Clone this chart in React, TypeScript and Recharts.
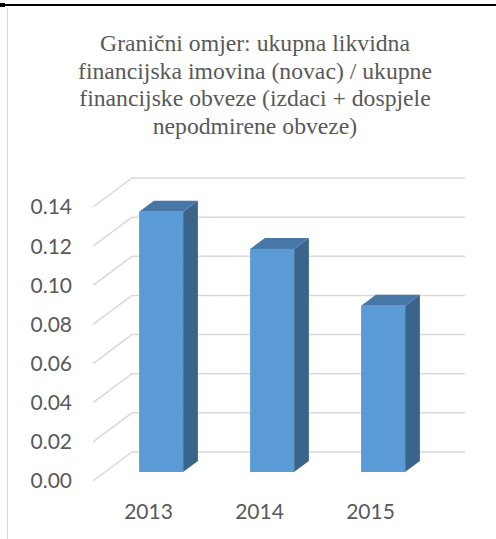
import React from 'react';
import { BarChart, Bar, XAxis, YAxis, CartesianGrid } from 'recharts';

const categories = ['2013', '2014', '2015'];
const ratioValues = [0.133, 0.114, 0.085];
const yTicks = [0, 0.02, 0.04, 0.06, 0.08, 0.1, 0.12, 0.14];
const titleLines = [
  'Granični omjer: ukupna likvidna',
  'financijska imovina (novac) / ukupne',
  'financijske obveze (izdaci + dospjele',
  'nepodmirene obveze)',
];

const data = categories.map((c, i) => ({ year: c, value: ratioValues[i] }));

const DEPTH_X = 39;
const DEPTH_Y = 29;
const BAR_OFF = 9 / 29;
const BAR_DEPTH = 11 / 29;

const GridLine = (props: any) => {
  const { x1, x2, y1 } = props;
  const pts = `${x1},${y1} ${x1 + DEPTH_X},${y1 - DEPTH_Y} ${x2 + DEPTH_X},${y1 - DEPTH_Y}`;
  return <polyline points={pts} fill="none" stroke="#D9D9D9" strokeWidth={1.5} />;
};

const Bar3D = (props: any) => {
  const { x, y, width, height } = props;
  if (width == null || height == null) return null;
  const ox = DEPTH_X * BAR_OFF;
  const oy = DEPTH_Y * BAR_OFF;
  const dx = DEPTH_X * BAR_DEPTH;
  const dy = DEPTH_Y * BAR_DEPTH;
  const fx = x + ox;
  const top = y - oy;
  const bottom = y + height - oy;
  const w = width;
  return (
    <g>
      <polygon
        points={`${fx + w},${top} ${fx + w + dx},${top - dy} ${fx + w + dx},${bottom - dy} ${fx + w},${bottom}`}
        fill="#3A6489"
      />
      <polygon
        points={`${fx},${top} ${fx + dx},${top - dy} ${fx + w + dx},${top - dy} ${fx + w},${top}`}
        fill="#4677A7"
      />
      <rect x={fx} y={top} width={w} height={bottom - top} fill="#5B9BD5" />
    </g>
  );
};

export default function App() {
  return (
    <div style={{ position: 'absolute', left: 0, top: 0, width: 496, height: 539, background: '#fff' }}>
      <div style={{ position: 'absolute', left: 0, top: 4, width: 496, height: 2, background: '#000' }} />
      <div style={{ position: 'absolute', left: 0, top: 3, width: 5, height: 4, background: '#000' }} />
      <div style={{ position: 'absolute', left: 7, top: 8, width: 1, height: 531, background: '#D9D9D9' }} />
      <div
        style={{
          position: 'absolute',
          left: 10,
          top: 30,
          width: 490,
          textAlign: 'center',
          fontFamily: '"Liberation Serif", "Times New Roman", serif',
          fontSize: 23.7,
          lineHeight: '27.5px',
          color: '#595959',
          zIndex: 2,
        }}
      >
        {titleLines.map((l) => (
          <div key={l}>{l}</div>
        ))}
      </div>
      <BarChart
        width={496}
        height={539}
        data={data}
        margin={{ top: 207, right: 70, bottom: 0, left: 0 }}
        barSize={44}
      >
        <CartesianGrid vertical={false} horizontal={(p: any) => <GridLine key={p.key} {...p} />} />
        <XAxis
          dataKey="year"
          axisLine={false}
          tickLine={false}
          height={58}
          tickMargin={17}
          tick={{ fill: '#595959', fontSize: 21, fontFamily: 'Lato' }}
        />
        <YAxis
          domain={[0, 0.14]}
          ticks={yTicks}
          width={93}
          axisLine={false}
          tickLine={false}
          tickMargin={15}
          tickFormatter={(v: number) => v.toFixed(2)}
          tick={{ fill: '#595959', fontSize: 21, fontFamily: 'Lato' }}
        />
        <Bar dataKey="value" isAnimationActive={false} shape={(p: any) => <Bar3D {...p} />} />
      </BarChart>
    </div>
  );
}
